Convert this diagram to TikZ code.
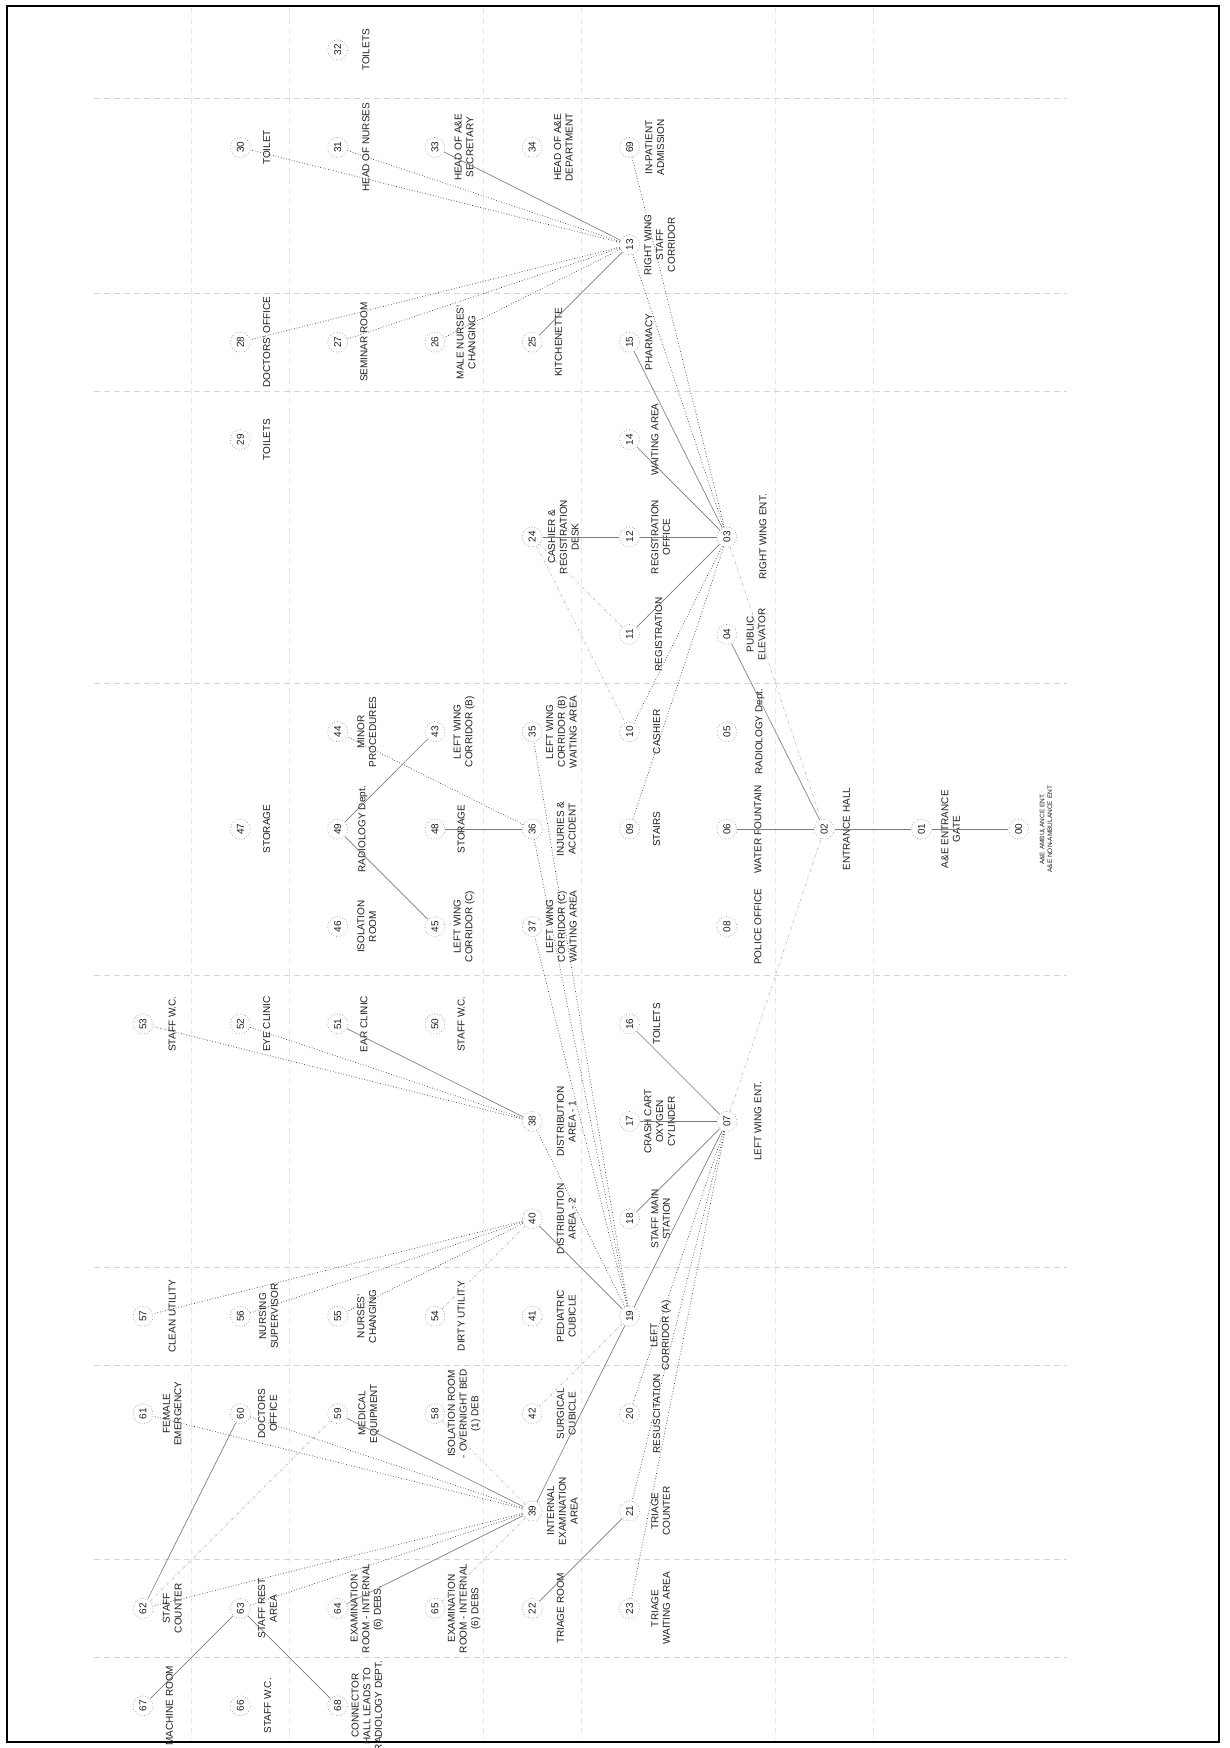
\documentclass[tikz,border=0pt]{standalone}
\usepackage{fontspec}
\setmainfont{Liberation Sans}
\usepackage{tikz}
\usetikzlibrary{positioning}
\definecolor{ink}{HTML}{1E1E1E}
\definecolor{wire}{HTML}{7C7C7C}
\definecolor{dots}{HTML}{3C3C3C}
\definecolor{faint}{HTML}{BEBEBE}
\definecolor{gridln}{HTML}{D6D6D6}
\tikzset{
  room/.style={circle, draw=gray!80, dotted, line width=0.7pt, minimum size=20pt,
    inner sep=0pt, text=ink, font=\fontsize{10}{11}\selectfont, rotate=90},
  roomlbl/.style={rotate=90, align=center, inner sep=0pt, text=ink,
    font=\fontsize{10}{11.7}\selectfont},
  link/.style={draw=wire, line width=0.65pt},
  dotlink/.style={draw=dots, line width=0.7pt, dotted},
  faintlink/.style={draw=faint, line width=0.65pt, dash dot},
  zone/.style={draw=gridln, line width=0.6pt, dash pattern=on 6pt off 4pt},
}

\begin{document}
\begin{tikzpicture}[x=97.3pt, y=-97.4pt]
\useasboundingbox (-1.470,-0.513) rectangle (11.161,17.433);
\draw[line width=2pt] (-1.398,-0.452) rectangle (11.058,17.372);
% zone lines
\foreach \gx in {0.5,1.5,3.5,4.5,6.5,7.5}
  \draw[zone, draw=gridln!60] (\gx,-0.43) -- (\gx,17.35);
\foreach \gy in {0.5,2.5,3.5,6.5,9.5,12.5,13.5,15.5,16.5}
  \draw[zone] (-0.5,\gy) -- (9.5,\gy);

% column 0
\node[room] (n53) at (0,10) {53};
\node[roomlbl] (t53) at (0.3,10) {STAFF W.C.};
\node[room] (n57) at (0,13) {57};
\node[roomlbl] (t57) at (0.3,13) {CLEAN UTILITY};
\node[room] (n61) at (0,14) {61};
\node[roomlbl] (t61) at (0.3,14) {FEMALE\\EMERGENCY};
\node[room] (n62) at (0,16) {62};
\node[roomlbl] (t62) at (0.3,16) {STAFF\\COUNTER};
\node[room] (n67) at (0,17) {67};
\node[roomlbl] (t67) at (0.27,17) {MACHINE ROOM};
% column 1
\node[room] (n30) at (1,1) {30};
\node[roomlbl] (t30) at (1.27,1) {TOILET};
\node[room] (n28) at (1,3) {28};
\node[roomlbl] (t28) at (1.27,3) {DOCTORS' OFFICE};
\node[room] (n29) at (1,4) {29};
\node[roomlbl] (t29) at (1.27,4) {TOILETS};
\node[room] (n47) at (1,8) {47};
\node[roomlbl] (t47) at (1.27,8) {STORAGE};
\node[room] (n52) at (1,10) {52};
\node[roomlbl] (t52) at (1.27,10) {EYE CLINIC};
\node[room] (n56) at (1,13) {56};
\node[roomlbl] (t56) at (1.29,13) {NURSING\\SUPERVISOR};
\node[room] (n60) at (1,14) {60};
\node[roomlbl] (t60) at (1.28,14) {DOCTORS\\OFFICE};
\node[room] (n63) at (1,16) {63};
\node[roomlbl] (t63) at (1.28,16) {STAFF REST\\AREA};
\node[room] (n66) at (1,17) {66};
\node[roomlbl] (t66) at (1.28,17) {STAFF W.C.};
% column 2
\node[room] (n32) at (2,0) {32};
\node[roomlbl] (t32) at (2.29,0) {TOILETS};
\node[room] (n31) at (2,1) {31};
\node[roomlbl] (t31) at (2.29,1) {HEAD OF NURSES};
\node[room] (n27) at (2,3) {27};
\node[roomlbl] (t27) at (2.27,3) {SEMINAR ROOM};
\node[room] (n44) at (2,7) {44};
\node[roomlbl] (t44) at (2.3,7) {MINOR\\PROCEDURES};
\node[room] (n49) at (2,8) {49};
\node[roomlbl] (t49) at (2.26,8) {RADIOLOGY Dept.};
\node[room] (n46) at (2,9) {46};
\node[roomlbl] (t46) at (2.3,9) {ISOLATION\\ROOM};
\node[room] (n51) at (2,10) {51};
\node[roomlbl] (t51) at (2.27,10) {EAR CLINIC};
\node[room] (n55) at (2,13) {55};
\node[roomlbl] (t55) at (2.3,13) {NURSES'\\CHANGING};
\node[room] (n59) at (2,14) {59};
\node[roomlbl] (t59) at (2.32,14) {MEDICAL\\EQUIPMENT};
\node[room] (n64) at (2,16) {64};
\node[roomlbl] (t64) at (2.3,16) {EXAMINATION\\ROOM - INTERNAL\\(6) DEBS.};
\node[room] (n68) at (2,17) {68};
\node[roomlbl] (t68) at (2.3,17) {CONNECTOR\\HALL LEADS TO\\RADIOLOGY DEPT.};
% column 3
\node[room] (n33) at (3,1) {33};
\node[roomlbl] (t33) at (3.3,1) {HEAD OF A\&E\\SECRETARY};
\node[room] (n26) at (3,3) {26};
\node[roomlbl] (t26) at (3.32,3) {MALE NURSES'\\CHANGING};
\node[room] (n43) at (3,7) {43};
\node[roomlbl] (t43) at (3.3,7) {LEFT WING\\CORRIDOR (B)};
\node[room] (n48) at (3,8) {48};
\node[roomlbl] (t48) at (3.27,8) {STORAGE};
\node[room] (n45) at (3,9) {45};
\node[roomlbl] (t45) at (3.3,9) {LEFT WING\\CORRIDOR (C)};
\node[room] (n50) at (3,10) {50};
\node[roomlbl] (t50) at (3.27,10) {STAFF W.C.};
\node[room] (n54) at (3,13) {54};
\node[roomlbl] (t54) at (3.27,13) {DIRTY UTILITY};
\node[room] (n58) at (3,14) {58};
\node[roomlbl] (t58) at (3.3,14) {ISOLATION ROOM\\- OVERNIGHT BED\\(1) DEB};
\node[room] (n65) at (3,16) {65};
\node[roomlbl] (t65) at (3.3,16) {EXAMINATION\\ROOM - INTERNAL\\(6) DEBS};
% column 4
\node[room] (n34) at (4,1) {34};
\node[roomlbl] (t34) at (4.32,1) {HEAD OF A\&E\\DEPARTMENT};
\node[room] (n25) at (4,3) {25};
\node[roomlbl] (t25) at (4.27,3) {KITCHENETTE};
\node[room] (n24) at (4,5) {24};
\node[roomlbl] (t24) at (4.32,5) {CASHIER \&\\REGISTRATION\\DESK};
\node[room] (n35) at (4,7) {35};
\node[roomlbl] (t35) at (4.3,7) {LEFT WING\\CORRIDOR (B)\\WAITING AREA};
\node[room] (n36) at (4,8) {36};
\node[roomlbl] (t36) at (4.35,8) {INJURIES \&\\ACCIDENT};
\node[room] (n37) at (4,9) {37};
\node[roomlbl] (t37) at (4.3,9) {LEFT WING\\CORRIDOR (C)\\WAITING AREA};
\node[room] (n38) at (4,11) {38};
\node[roomlbl] (t38) at (4.35,11) {DISTRIBUTION\\AREA - 1};
\node[room] (n40) at (4,12) {40};
\node[roomlbl] (t40) at (4.35,12) {DISTRIBUTION\\AREA - 2};
\node[room] (n41) at (4,13) {41};
\node[roomlbl] (t41) at (4.35,13) {PEDIATRIC\\CUBICLE};
\node[room] (n42) at (4,14) {42};
\node[roomlbl] (t42) at (4.35,14) {SURGICAL\\CUBICLE};
\node[room] (n39) at (4,15) {39};
\node[roomlbl] (t39) at (4.31,15) {INTERNAL\\EXAMINATION\\AREA};
\node[room] (n22) at (4,16) {22};
\node[roomlbl] (t22) at (4.29,16) {TRIAGE ROOM};
% column 5
\node[room] (n69) at (5,1) {69};
\node[roomlbl] (t69) at (5.26,1) {IN-PATIENT\\ADMISSION};
\node[room] (n13) at (5,2) {13};
\node[roomlbl] (t13) at (5.31,2) {RIGHT WING\\STAFF\\CORRIDOR};
\node[room] (n15) at (5,3) {15};
\node[roomlbl] (t15) at (5.2,3) {PHARMACY};
\node[room] (n14) at (5,4) {14};
\node[roomlbl] (t14) at (5.26,4) {WAITING AREA};
\node[room] (n12) at (5,5) {12};
\node[roomlbl] (t12) at (5.32,5) {REGISTRATION\\OFFICE};
\node[room] (n11) at (5,6) {11};
\node[roomlbl] (t11) at (5.3,6) {REGISTRATION};
\node[room] (n10) at (5,7) {10};
\node[roomlbl] (t10) at (5.28,7) {CASHIER};
\node[room] (n09) at (5,8) {09};
\node[roomlbl] (t09) at (5.28,8) {STAIRS};
\node[room] (n16) at (5,10) {16};
\node[roomlbl] (t16) at (5.28,10) {TOILETS};
\node[room] (n17) at (5,11) {17};
\node[roomlbl] (t17) at (5.31,11) {CRASH CART\\OXYGEN\\CYLINDER};
\node[room] (n18) at (5,12) {18};
\node[roomlbl] (t18) at (5.32,12) {STAFF MAIN\\STATION};
\node[room] (n19) at (5,13) {19};
\node[roomlbl] (t19) at (5.32,13.2) {LEFT\\CORRIDOR (A)};
\node[room] (n20) at (5,14) {20};
\node[roomlbl] (t20) at (5.28,14) {RESUSCITATION};
\node[room] (n21) at (5,15) {21};
\node[roomlbl] (t21) at (5.32,15) {TRIAGE\\COUNTER};
\node[room] (n23) at (5,16) {23};
\node[roomlbl] (t23) at (5.32,16) {TRIAGE\\WAITING AREA};
% column 6
\node[room] (n03) at (6,5) {03};
\node[roomlbl] (t03) at (6.37,5) {RIGHT WING ENT.};
\node[room] (n04) at (6,6) {04};
\node[roomlbl] (t04) at (6.3,6) {PUBLIC\\ELEVATOR};
\node[room] (n05) at (6,7) {05};
\node[roomlbl] (t05) at (6.34,7) {RADIOLOGY Dept.};
\node[room] (n06) at (6,8) {06};
\node[roomlbl] (t06) at (6.32,8) {WATER FOUNTAIN};
\node[room] (n08) at (6,9) {08};
\node[roomlbl] (t08) at (6.32,9) {POLICE OFFICE};
\node[room] (n07) at (6,11) {07};
\node[roomlbl] (t07) at (6.32,11) {LEFT WING ENT.};
% entrance
\node[room] (n02) at (7,8) {02};
\node[roomlbl] (t02) at (7.23,8) {ENTRANCE HALL};
\node[room] (n01) at (8,8) {01};
\node[roomlbl] (t01) at (8.3,8) {A\&E ENTRANCE\\GATE};
\node[room] (n00) at (9,8) {00};
\node[roomlbl, font=\fontsize{6.5}{7.6}\selectfont] (t00) at (9.28,8)
  {A\&E AMBULANCE ENT.\\A\&E NON-AMBULANCE ENT};

% solid links
\draw[link] (n00) -- (n01);
\draw[link] (n01) -- (n02);
\draw[link] (n02) -- (n06);
\draw[link] (n02) -- (n04);
\draw[link] (n03) -- (n12);
\draw[link] (n12) -- (n24);
\draw[link] (n03) -- (n11);
\draw[link] (n03) -- (n14);
\draw[link] (n03) -- (n15);
\draw[link] (n13) -- (n25);
\draw[link] (n13) -- (n33);
\draw[link] (n07) -- (n16);
\draw[link] (n07) -- (n17);
\draw[link] (n07) -- (n18);
\draw[link] (n07) -- (n19);
\draw[link] (n19) -- (n39);
\draw[link] (n19) -- (n40);
\draw[link] (n21) -- (n22);
\draw[link] (n49) -- (n43);
\draw[link] (n49) -- (n45);
\draw[link] (n36) -- (n48);
\draw[link] (n62) -- (n60);
\draw[link] (n63) -- (n67);
\draw[link] (n63) -- (n68);
\draw[link] (n39) -- (n59);
\draw[link] (n39) -- (n64);
\draw[link] (n38) -- (n51);
% dotted links
\draw[dotlink] (n13) -- (n30);
\draw[dotlink] (n13) -- (n31);
\draw[dotlink] (n13) -- (n28);
\draw[dotlink] (n13) -- (n27);
\draw[dotlink] (n13) -- (n26);
\draw[dotlink] (n13) -- (n03);
\draw[dotlink] (n69) -- (n03);
\draw[dotlink] (n03) -- (n10);
\draw[dotlink] (n03) -- (n09);
\draw[dotlink] (n38) -- (n52);
\draw[dotlink] (n38) -- (n53);
\draw[dotlink] (n40) -- (n55);
\draw[dotlink] (n40) -- (n56);
\draw[dotlink] (n40) -- (n57);
\draw[dotlink] (n39) -- (n60);
\draw[dotlink] (n39) -- (n61);
\draw[dotlink] (n39) -- (n62);
\draw[dotlink] (n39) -- (n63);
\draw[dotlink] (n07) -- (n20);
\draw[dotlink] (n07) -- (n21);
\draw[dotlink] (n07) -- (n23);
\draw[dotlink] (n19) -- (n35);
\draw[dotlink] (n19) -- (n36);
\draw[dotlink] (n19) -- (n37);
\draw[dotlink] (n19) -- (n38);
\draw[dotlink] (n36) -- (n44);
% faint links
\draw[faintlink] (n24) -- (n10);
\draw[faintlink] (n03) -- (n02);
\draw[faintlink] (n07) -- (n02);
\draw[faintlink] (n19) -- (n42);
\draw[faintlink] (n39) -- (n58);
\draw[faintlink] (n39) -- (n65);
\draw[faintlink] (n40) -- (n54);
\draw[faintlink] (n62) -- (n59);
\draw[faintlink] (n11) -- (n24);
\end{tikzpicture}
\end{document}
